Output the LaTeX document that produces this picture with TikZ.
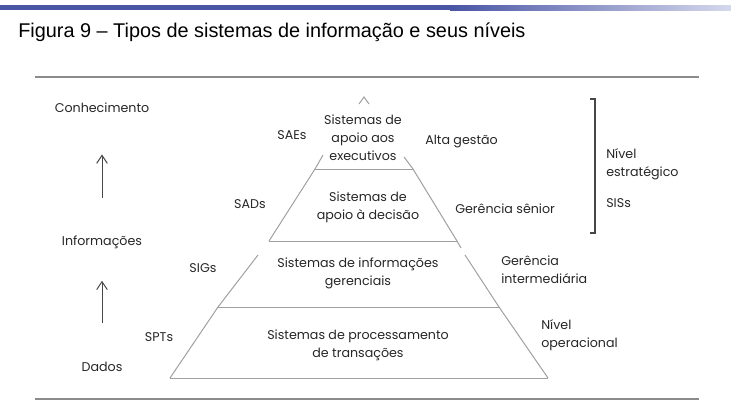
\documentclass[tikz,border=0pt]{standalone}
\usepackage{fontspec}
\usepackage{tikz}
\usetikzlibrary{arrows.meta}
\setmainfont{Liberation Sans}
\newfontfamily\pyrfont{Poppins}
\definecolor{barblue}{HTML}{4A55A5}
\definecolor{barpale}{HTML}{D5D8EC}
\definecolor{textgray}{HTML}{262626}
\definecolor{linegray}{HTML}{A0A0A0}
\definecolor{rulegray}{HTML}{8C8C8C}

\begin{document}
\begin{tikzpicture}[x=0.75pt, y=-0.75pt,
		txt/.style={color=textgray, inner sep=0pt, font=\pyrfont\fontsize{9.5}{13.5}\selectfont},
		stage/.style={txt, align=center},
		side/.style={txt, anchor=west, align=left},
		pyrline/.style={color=linegray, line width=0.75pt},
		uparrow/.style={-{Straight Barb[length=6pt, width=8pt]}, color=textgray!85, line width=0.75pt}]
		\useasboundingbox (0, 0) rectangle (731, 412);
		
		\fill [barblue] (0, 5) rectangle (450, 10);
		\shade [left color=barblue, right color=barpale] (450, 5) rectangle (731, 10);
		\node [anchor=base west, inner sep=0pt, font=\fontsize{14.9}{17}\selectfont] (title) at (18, 37) {Figura 9 – Tipos de sistemas de informação e seus níveis};
		
		\draw [color=rulegray, line width=1.5pt] (35, 77) -- (699, 77);
		\draw [color=rulegray, line width=1.5pt] (35, 399) -- (699, 399);
		
		\draw [pyrline] (359, 104) -- (364, 97) -- (369, 104);
		\draw [pyrline] (323, 155) -- (315, 169) -- (269, 241);
		\draw [pyrline] (258, 255) -- (218, 307) -- (170, 378);
		\draw [pyrline] (404, 157) -- (413, 169) -- (457, 241) -- (461, 248);
		\draw [pyrline] (465, 255) -- (499, 307) -- (548, 378);
		\draw [pyrline] (315, 169) -- (413, 169);
		\draw [pyrline] (269, 241) -- (457, 241);
		\draw [pyrline] (218, 307) -- (499, 307);
		\draw [pyrline] (170, 378) -- (548, 378);
		
		\node [stage] (sae) at (363, 138) {Sistemas de\\apoio aos\\executivos};
		\node [stage] (sad) at (368, 207) {Sistemas de\\apoio à decisão};
		\node [stage] (sig) at (358, 273) {Sistemas de informações\\gerenciais};
		\node [stage] (spt) at (358, 345) {Sistemas de processamento\\de transações};
		
		\node [txt] (saes) at (292, 135) {SAEs};
		\node [txt] (sads) at (250, 204) {SADs};
		\node [txt] (sigs) at (203, 268) {SIGs};
		\node [txt] (spts) at (159, 337) {SPTs};
		
		\node [side] (alta) at (425, 142) {Alta gestão};
		\node [side] (senior) at (455, 209) {Gerência sênior};
		\node [side] (inter) at (501, 270) {Gerência\\intermediária};
		\node [side] (oper) at (541, 335) {Nível\\operacional};
		\node [side] (estr) at (606, 164) {Nível\\estratégico};
		\node [side] (siss) at (606, 203) {SISs};
		
		\draw [color=textgray!85, line width=0.9pt] (590, 99) -- (595, 99) -- (595, 233) -- (590, 233);
		
		\node [txt] (conh) at (102, 108) {Conhecimento};
		\node [txt] (info) at (102, 242) {Informações};
		\node [txt] (dados) at (102, 367) {Dados};
		
		\draw [uparrow, shorten <=28pt, shorten >=31pt] (info) -- (conh);
		\draw [uparrow, shorten <=29pt, shorten >=24pt] (dados) -- (info);
		
	\end{tikzpicture}
\end{document}
